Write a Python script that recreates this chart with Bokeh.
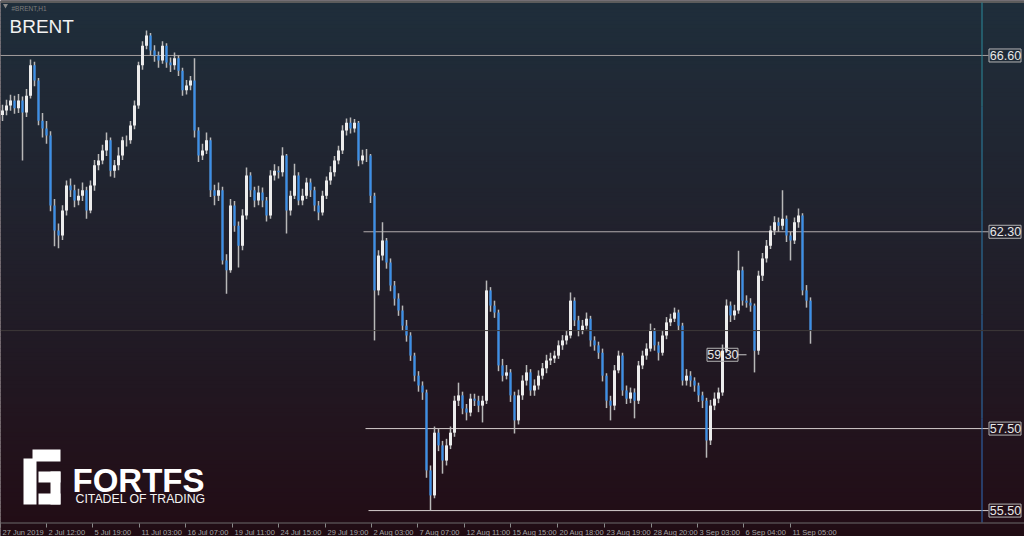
import numpy as np
from bokeh.plotting import figure
from bokeh.models import Range1d, Span
from bokeh.core.properties import value
from bokeh.embed import file_html
from bokeh.resources import INLINE

# ---------------- data ----------------
symbol = "BRENT"
chart_id = "#BRENT,H1"

time_labels = ["27 Jun 2019", "2 Jul 12:00", "5 Jul 19:00", "11 Jul 03:00", "16 Jul 07:00",
               "19 Jul 11:00", "24 Jul 15:00", "29 Jul 19:00", "2 Aug 03:00", "7 Aug 07:00",
               "12 Aug 11:00", "15 Aug 15:00", "20 Aug 18:00", "23 Aug 19:00", "28 Aug 20:00",
               "3 Sep 03:00", "6 Sep 04:00", "11 Sep 05:00"]
time_label_bars = [-0.5, 11.0, 22.5, 34.25, 45.75, 57.5, 69.0, 80.75, 92.25, 103.75,
                   115.5, 127.0, 138.75, 150.5, 162.25, 173.75, 185.25, 197.0]

first_open = 65.15
closes = [
    65.26, 65.38, 65.50, 65.31, 65.50, 65.21, 65.62, 66.36, 65.99, 65.01,
    64.82, 64.65, 62.94, 62.33, 62.21, 62.82, 63.43, 63.31, 63.06, 63.18,
    63.31, 62.82, 63.43, 63.92, 64.04, 64.28, 64.53, 63.79, 63.92, 64.16,
    64.53, 64.53, 64.89, 65.38, 66.36, 66.84, 67.09, 66.72, 66.60, 66.48,
    66.84, 66.43, 66.36, 66.53, 66.23, 65.75, 65.87, 65.99, 64.77, 64.16,
    64.28, 64.53, 63.31, 63.18, 63.31, 61.60, 61.36, 62.94, 62.45, 61.96,
    62.70, 63.67, 63.31, 63.06, 63.26, 63.06, 62.70, 63.67, 63.79, 63.75,
    64.16, 62.82, 63.18, 63.67, 63.06, 63.18, 63.50, 63.31, 62.94, 62.77,
    63.18, 63.55, 63.75, 64.04, 64.28, 64.77, 64.96, 64.82, 64.96, 64.04,
    64.16, 64.16, 63.18, 60.87, 61.72, 62.09, 61.55, 60.99, 60.67, 60.38,
    60.01, 59.77, 59.28, 58.79, 58.55, 58.38, 56.48, 55.87, 57.40, 57.09,
    56.72, 57.09, 57.40, 58.18, 58.31, 57.99, 57.89, 58.23, 58.18, 58.06,
    58.18, 60.87, 60.50, 60.33, 59.04, 58.79, 58.87, 58.31, 57.70, 58.31,
    58.67, 58.87, 58.43, 58.55, 58.79, 58.97, 59.16, 59.21, 59.28, 59.53,
    59.65, 59.77, 60.62, 60.14, 59.89, 60.01, 60.18, 59.65, 59.53, 59.35,
    58.79, 58.18, 58.06, 58.92, 59.28, 58.43, 58.23, 58.38, 58.18, 59.04,
    59.28, 59.45, 59.89, 59.53, 59.35, 59.77, 60.09, 60.18, 60.33, 60.01,
    58.67, 58.79, 58.67, 58.55, 58.31, 58.18, 57.21, 58.06, 58.23, 58.38,
    59.40, 60.50, 60.26, 60.38, 61.36, 60.62, 60.57, 60.50, 59.40, 61.23,
    61.65, 61.96, 62.33, 62.53, 62.45, 62.62, 62.21, 62.09, 62.53, 62.70,
    60.87, 60.62, 59.89]
highs = [
    65.40, 65.52, 65.64, 65.62, 65.66, 65.60, 65.78, 66.50, 66.45, 66.05,
    65.20, 65.00, 64.75, 63.10, 62.50, 62.95, 63.55, 63.60, 63.45, 63.35,
    63.50, 63.40, 63.55, 64.05, 64.20, 64.42, 64.72, 64.60, 64.05, 64.36,
    64.62, 64.65, 65.00, 65.50, 66.45, 66.95, 67.21, 67.15, 66.85, 66.70,
    66.95, 66.90, 66.55, 66.67, 66.60, 66.30, 66.00, 66.10, 66.53, 64.85,
    64.45, 64.72, 64.60, 63.45, 63.50, 63.40, 61.75, 63.10, 63.05, 62.55,
    62.85, 63.87, 63.75, 63.40, 63.42, 63.38, 63.15, 63.80, 63.95, 63.90,
    64.36, 64.20, 63.30, 63.96, 63.75, 63.35, 63.62, 63.60, 63.40, 63.05,
    63.30, 63.65, 63.90, 64.15, 64.40, 64.90, 65.06, 65.09, 65.05, 65.00,
    64.30, 64.32, 64.20, 63.25, 61.85, 62.53, 62.15, 61.65, 61.10, 60.80,
    60.50, 60.15, 59.85, 59.35, 58.90, 58.65, 58.45, 56.60, 57.55, 57.50,
    57.20, 57.25, 57.55, 58.30, 58.62, 58.40, 58.10, 58.35, 58.35, 58.30,
    58.30, 61.11, 60.95, 60.62, 60.40, 59.20, 59.05, 58.95, 58.40, 58.45,
    58.80, 59.05, 58.95, 58.70, 58.92, 59.10, 59.30, 59.35, 59.40, 59.65,
    59.78, 59.90, 60.82, 60.70, 60.25, 60.15, 60.33, 60.25, 59.75, 59.62,
    59.45, 58.85, 58.30, 59.05, 59.40, 59.35, 58.55, 58.50, 58.48, 59.15,
    59.40, 59.58, 60.06, 59.95, 59.62, 59.90, 60.22, 60.30, 60.45, 60.40,
    60.08, 58.95, 58.90, 58.75, 58.62, 58.40, 58.25, 58.20, 58.38, 58.50,
    59.55, 60.65, 60.60, 60.52, 61.84, 61.45, 60.75, 60.68, 60.55, 61.35,
    61.78, 62.10, 62.45, 62.68, 62.65, 63.31, 62.70, 62.30, 62.65, 62.87,
    62.75, 61.00, 60.70]
lows = [
    65.00, 65.14, 65.25, 65.18, 65.20, 64.04, 65.10, 65.55, 65.85, 64.90,
    64.60, 64.45, 62.80, 61.95, 61.90, 62.10, 62.70, 63.15, 62.90, 62.95,
    63.05, 62.62, 62.75, 63.30, 63.80, 63.95, 64.15, 63.65, 63.62, 63.80,
    64.05, 64.38, 64.45, 64.80, 65.30, 66.25, 66.75, 66.60, 66.45, 66.30,
    66.40, 66.30, 66.20, 66.25, 66.10, 65.62, 65.65, 65.75, 64.60, 64.00,
    64.05, 64.20, 63.15, 62.95, 63.05, 61.50, 60.79, 61.30, 62.30, 61.43,
    61.85, 62.60, 63.15, 62.90, 62.95, 62.90, 62.55, 62.62, 63.55, 63.60,
    63.65, 62.26, 62.70, 63.10, 62.95, 62.95, 63.10, 63.15, 62.80, 62.58,
    62.70, 63.10, 63.45, 63.65, 63.95, 64.20, 64.65, 64.70, 64.72, 63.90,
    63.95, 64.00, 63.00, 59.65, 60.75, 61.60, 61.40, 60.85, 60.50, 60.25,
    59.88, 59.62, 59.15, 58.65, 58.40, 58.20, 56.30, 55.50, 55.80, 56.95,
    56.40, 56.60, 57.00, 57.30, 58.05, 57.85, 57.70, 57.80, 58.05, 57.90,
    57.65, 58.10, 60.35, 60.20, 58.90, 58.65, 58.70, 58.15, 57.38, 57.60,
    58.20, 58.55, 58.30, 58.30, 58.45, 58.70, 58.85, 59.05, 59.10, 59.20,
    59.42, 59.55, 59.70, 60.00, 59.75, 59.80, 59.92, 59.50, 59.40, 59.20,
    58.65, 58.00, 57.70, 57.95, 58.85, 58.30, 58.10, 58.12, 57.75, 58.10,
    58.95, 59.18, 59.38, 59.40, 59.16, 59.28, 59.68, 60.00, 60.10, 59.90,
    58.55, 58.55, 58.52, 58.40, 58.15, 58.00, 56.79, 57.10, 57.95, 58.12,
    58.30, 59.35, 60.10, 60.15, 60.30, 60.50, 60.45, 60.35, 58.87, 59.30,
    61.10, 61.55, 61.88, 62.22, 62.30, 62.35, 62.05, 61.60, 62.00, 62.40,
    60.75, 60.45, 59.57]

level_prices = [66.60, 62.30, 57.50, 55.50]
level_start_bars = [-1.0, 90.25, 90.75, 91.5]
level_colors = ["#a39d9d", "#b5adad", "#d6cece", "#d6cece"]
marked_price = 59.30
marked_bar = 186.0

brand = "FORTFS"
tagline = "CITADEL OF TRADING"

# ---------------- layout helpers (screen pixel -> data) ----------------
W, H = 1024, 536


def X(px):
    return (px - 2) / 4.0


def Y(py):
    return 67.941 - py / 41.0


p = figure(width=W, height=H, x_range=Range1d(X(0), X(W)), y_range=Range1d(Y(H), Y(0)),
           output_backend="svg", toolbar_location=None, x_axis_location=None, y_axis_location=None,
           min_border=0, background_fill_color="#200d15", border_fill_color="#200d15")
p.grid.visible = False
p.outline_line_color = None

# background gradient
stops_y = [0, 270, 522, 536]
stops_c = [(31, 46, 59), (33, 31, 42), (34, 13, 22), (32, 12, 19)]
band_edges = np.arange(0, 537, 4)
tops, bots, cols = [], [], []
for a, b in zip(band_edges[:-1], band_edges[1:]):
    m = (a + b) / 2
    c = [int(round(np.interp(m, stops_y, [s[k] for s in stops_c]))) for k in range(3)]
    tops.append(Y(a))
    bots.append(Y(b + 0.5))
    cols.append("#%02x%02x%02x" % tuple(c))
p.quad(left=X(0), right=X(1024), top=tops, bottom=bots, fill_color=cols, line_color=None)

# top border
p.segment(x0=[X(0)], y0=[Y(1.5)], x1=[X(1024)], y1=[Y(1.5)], line_color="#5c5c5c", line_width=2)

# bid line
p.add_layout(Span(location=closes[-1], dimension="width", line_color="#3d3838", line_width=1))

# level lines
p.segment(x0=level_start_bars, y0=level_prices, x1=[X(988)] * 4, y1=level_prices,
          line_color=level_colors, line_width=1)

# right border vertical line
vseg = np.linspace(2, 522, 6)
vcols = ["#2a8a9c", "#2b82a4", "#2c7aab", "#2d72b2", "#2e6bb8"]
p.segment(x0=[X(981.5)] * 5, y0=[Y(v) for v in vseg[:-1]], x1=[X(981.5)] * 5,
          y1=[Y(v) for v in vseg[1:]], line_color=vcols, line_width=1)

# candles
idx = np.arange(len(closes))
c_arr = np.array(closes)
o_arr = np.r_[first_open, c_arr[:-1]]
up = c_arr >= o_arr
p.segment(x0=idx, y0=highs, x1=idx, y1=lows, line_color="#b8b8b8", line_width=1.5)
p.vbar(x=idx[up], top=c_arr[up], bottom=o_arr[up], width=0.75,
       fill_color="#ececec", line_color=None)
p.vbar(x=idx[~up], top=o_arr[~up], bottom=c_arr[~up], width=0.55,
       fill_color="#3a8fe9", line_color=None)

# right price labels
font = value("Liberation Sans")
p.rect(x=[X(1004.5)] * 4, y=level_prices, width=32, height=13, width_units="screen",
       height_units="screen", fill_alpha=0, line_color="#b4b4b4", line_width=1)
p.text(x=[X(1005)] * 4, y=level_prices, text=["%.2f" % v for v in level_prices],
       text_font=font, text_font_size="12.5px", text_color="#e8e8e8",
       text_align="center", text_baseline="middle")

# marked price label
p.segment(x0=[marked_bar - 2.25], y0=[marked_price], x1=[marked_bar], y1=[marked_price],
          line_color="#c8c8c8", line_width=1)
p.rect(x=[marked_bar - 6.0], y=[marked_price], width=31, height=13, width_units="screen",
       height_units="screen", fill_alpha=0, line_color="#b4b4b4", line_width=1)
p.text(x=[marked_bar - 5.9], y=[marked_price], text=["%.2f" % marked_price],
       text_font=font, text_font_size="12.5px", text_color="#e8e8e8",
       text_align="center", text_baseline="middle")

# time axis
p.segment(x0=[X(0)], y0=[Y(522.5)], x1=[X(1024)], y1=[Y(522.5)], line_color="#6a6a6a", line_width=1)
p.segment(x0=time_label_bars, y0=[Y(523)] * len(time_label_bars), x1=time_label_bars,
          y1=[Y(527)] * len(time_label_bars), line_color="#8a8a8a", line_width=1)
lab_x = [b + 0.5 for b in time_label_bars]
p.text(x=lab_x, y=[Y(532)] * len(lab_x), text=time_labels, text_font=font,
       text_font_size="7.5px", text_color="#a3a3a3", text_align="left",
       text_baseline="alphabetic")

# title
p.scatter(x=[X(5)], y=[Y(5)], marker="inverted_triangle", size=5,
          fill_color="#8a8a8a", line_color=None)
p.text(x=[X(11)], y=[Y(8)], text=[chart_id], text_font=font, text_font_size="6.5px",
       text_color="#7c7c7c", text_align="left", text_baseline="alphabetic")
p.text(x=[X(9)], y=[Y(25.5)], text=[symbol], text_font=font, text_font_size="19px",
       text_color="#f2f2f2", text_align="left", text_baseline="alphabetic")

# logo
logo_rects = [(23, 36, 458, 504), (32, 60, 449, 461), (38, 60, 471, 482),
              (50, 60, 471, 504), (38, 60, 493, 504)]
p.quad(left=[X(r[0]) for r in logo_rects], right=[X(r[1]) for r in logo_rects],
       top=[Y(r[2]) for r in logo_rects], bottom=[Y(r[3]) for r in logo_rects],
       fill_color="#ffffff", line_color=None)
p.text(x=[X(72)], y=[Y(480)], text=[brand], text_font=font, text_font_style="bold",
       text_font_size="33px", text_color="#ffffff", text_align="left", text_baseline="alphabetic")
p.text(x=[X(75)], y=[Y(498)], text=[tagline], text_font=font,
       text_font_size="12.3px", text_color="#f4f4f4", text_align="left", text_baseline="alphabetic")

open("out.html", "w").write(file_html(p, INLINE))
